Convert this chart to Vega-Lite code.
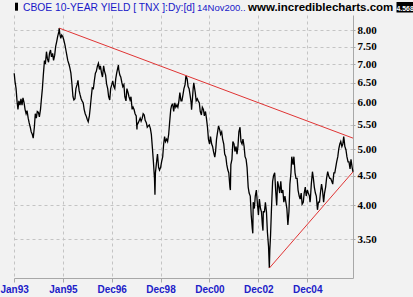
{
  "$schema": "https://vega.github.io/schema/vega-lite/v6.json",
  "width": 339,
  "height": 263,
  "autosize": {"type": "none"},
  "padding": {"left": 14, "top": 15, "right": 60, "bottom": 19},
  "background": "#f2f2f2",
  "config": {
    "view": {"stroke": null},
    "axis": {
      "domainColor": "#a8a8a8",
      "tickColor": "#a8a8a8",
      "gridColor": "#c4c4c4",
      "gridDash": [3, 3],
      "gridWidth": 1,
      "title": null
    }
  },
  "datasets": {
    "tnx": [
      {"d":"1993-01-04","v":6.75},{"d":"1993-01-15","v":6.55},{"d":"1993-02-01","v":6.35},{"d":"1993-02-15","v":6.05},{"d":"1993-03-01","v":5.85},{"d":"1993-03-15","v":6.05},{"d":"1993-04-01","v":5.95},{"d":"1993-04-15","v":6.1},{"d":"1993-05-01","v":5.95},{"d":"1993-05-15","v":6.12},{"d":"1993-06-01","v":6.0},{"d":"1993-06-15","v":5.85},{"d":"1993-07-01","v":5.75},{"d":"1993-07-15","v":5.82},{"d":"1993-08-01","v":5.65},{"d":"1993-08-15","v":5.55},{"d":"1993-09-01","v":5.45},{"d":"1993-09-15","v":5.35},{"d":"1993-10-01","v":5.3},{"d":"1993-10-15","v":5.22},{"d":"1993-11-01","v":5.45},{"d":"1993-11-15","v":5.75},{"d":"1993-12-01","v":5.65},{"d":"1993-12-15","v":5.8},
      {"d":"1994-01-01","v":5.78},{"d":"1994-01-15","v":5.68},{"d":"1994-02-01","v":5.85},{"d":"1994-02-15","v":6.1},{"d":"1994-03-01","v":6.35},{"d":"1994-03-15","v":6.7},{"d":"1994-04-01","v":7.1},{"d":"1994-04-15","v":7.0},{"d":"1994-05-01","v":7.35},{"d":"1994-05-15","v":7.15},{"d":"1994-06-01","v":7.05},{"d":"1994-06-15","v":7.3},{"d":"1994-07-01","v":7.4},{"d":"1994-07-15","v":7.2},{"d":"1994-08-01","v":7.3},{"d":"1994-08-15","v":7.1},{"d":"1994-09-01","v":7.25},{"d":"1994-09-15","v":7.5},{"d":"1994-10-01","v":7.65},{"d":"1994-10-15","v":7.8},{"d":"1994-11-01","v":7.95},{"d":"1994-11-08","v":8.07},{"d":"1994-11-15","v":7.9},{"d":"1994-12-01","v":7.75},{"d":"1994-12-15","v":7.85},
      {"d":"1995-01-01","v":7.8},{"d":"1995-01-15","v":7.7},{"d":"1995-02-01","v":7.55},{"d":"1995-02-15","v":7.4},{"d":"1995-03-01","v":7.25},{"d":"1995-03-15","v":7.1},{"d":"1995-04-01","v":7.0},{"d":"1995-04-15","v":6.9},{"d":"1995-05-01","v":6.75},{"d":"1995-05-15","v":6.5},{"d":"1995-06-01","v":6.15},{"d":"1995-06-15","v":6.07},{"d":"1995-07-01","v":6.1},{"d":"1995-07-15","v":6.35},{"d":"1995-08-01","v":6.45},{"d":"1995-08-15","v":6.56},{"d":"1995-09-01","v":6.3},{"d":"1995-09-15","v":6.2},{"d":"1995-10-01","v":6.1},{"d":"1995-10-15","v":6.05},{"d":"1995-11-01","v":6.0},{"d":"1995-11-15","v":5.85},{"d":"1995-12-01","v":5.75},{"d":"1995-12-15","v":5.7},
      {"d":"1996-01-01","v":5.62},{"d":"1996-01-15","v":5.57},{"d":"1996-02-01","v":5.7},{"d":"1996-02-15","v":5.9},{"d":"1996-03-01","v":6.15},{"d":"1996-03-15","v":6.37},{"d":"1996-04-01","v":6.35},{"d":"1996-04-15","v":6.55},{"d":"1996-05-01","v":6.75},{"d":"1996-05-15","v":6.8},{"d":"1996-06-01","v":6.95},{"d":"1996-06-15","v":7.02},{"d":"1996-07-01","v":6.85},{"d":"1996-07-15","v":6.95},{"d":"1996-08-01","v":6.75},{"d":"1996-08-15","v":6.65},{"d":"1996-09-01","v":6.95},{"d":"1996-09-15","v":6.8},{"d":"1996-10-01","v":6.7},{"d":"1996-10-15","v":6.47},{"d":"1996-11-01","v":6.35},{"d":"1996-11-15","v":6.15},{"d":"1996-12-01","v":6.07},{"d":"1996-12-15","v":6.35},
      {"d":"1997-01-01","v":6.45},{"d":"1997-01-15","v":6.55},{"d":"1997-02-01","v":6.4},{"d":"1997-02-15","v":6.35},{"d":"1997-03-01","v":6.6},{"d":"1997-03-15","v":6.75},{"d":"1997-04-01","v":6.9},{"d":"1997-04-10","v":6.97},{"d":"1997-04-15","v":6.85},{"d":"1997-05-01","v":6.7},{"d":"1997-05-15","v":6.65},{"d":"1997-06-01","v":6.5},{"d":"1997-06-15","v":6.4},{"d":"1997-07-01","v":6.45},{"d":"1997-07-15","v":6.15},{"d":"1997-08-01","v":6.05},{"d":"1997-08-15","v":6.35},{"d":"1997-09-01","v":6.25},{"d":"1997-09-15","v":6.15},{"d":"1997-10-01","v":6.07},{"d":"1997-10-15","v":6.15},{"d":"1997-11-01","v":5.85},{"d":"1997-11-15","v":5.9},{"d":"1997-12-01","v":5.84},{"d":"1997-12-15","v":5.75},
      {"d":"1998-01-01","v":5.7},{"d":"1998-01-12","v":5.4},{"d":"1998-01-15","v":5.5},{"d":"1998-02-01","v":5.55},{"d":"1998-02-15","v":5.6},{"d":"1998-03-01","v":5.65},{"d":"1998-03-15","v":5.58},{"d":"1998-04-01","v":5.65},{"d":"1998-04-15","v":5.75},{"d":"1998-05-01","v":5.72},{"d":"1998-05-15","v":5.6},{"d":"1998-06-01","v":5.55},{"d":"1998-06-15","v":5.45},{"d":"1998-07-01","v":5.48},{"d":"1998-07-15","v":5.5},{"d":"1998-08-01","v":5.42},{"d":"1998-08-15","v":5.3},{"d":"1998-09-01","v":5.0},{"d":"1998-09-15","v":4.75},{"d":"1998-10-01","v":4.45},{"d":"1998-10-08","v":4.17},{"d":"1998-10-15","v":4.55},{"d":"1998-11-01","v":4.75},{"d":"1998-11-15","v":4.9},{"d":"1998-12-01","v":4.65},{"d":"1998-12-15","v":4.6},
      {"d":"1999-01-01","v":4.65},{"d":"1999-01-15","v":4.75},{"d":"1999-02-01","v":4.85},{"d":"1999-02-15","v":5.1},{"d":"1999-03-01","v":5.25},{"d":"1999-03-15","v":5.15},{"d":"1999-04-01","v":5.2},{"d":"1999-04-15","v":5.15},{"d":"1999-05-01","v":5.3},{"d":"1999-05-15","v":5.55},{"d":"1999-06-01","v":5.85},{"d":"1999-06-15","v":5.95},{"d":"1999-07-01","v":5.97},{"d":"1999-07-15","v":5.8},{"d":"1999-08-01","v":6.0},{"d":"1999-08-15","v":5.9},{"d":"1999-09-01","v":5.95},{"d":"1999-09-15","v":5.9},{"d":"1999-10-01","v":6.05},{"d":"1999-10-15","v":6.25},{"d":"1999-11-01","v":6.05},{"d":"1999-11-15","v":6.05},{"d":"1999-12-01","v":6.2},{"d":"1999-12-15","v":6.35},
      {"d":"2000-01-01","v":6.45},{"d":"2000-01-14","v":6.68},{"d":"2000-02-01","v":6.6},{"d":"2000-02-15","v":6.4},{"d":"2000-03-01","v":6.35},{"d":"2000-03-15","v":6.2},{"d":"2000-04-01","v":6.0},{"d":"2000-04-07","v":5.84},{"d":"2000-04-15","v":6.0},{"d":"2000-05-01","v":6.35},{"d":"2000-05-10","v":6.5},{"d":"2000-06-01","v":6.25},{"d":"2000-06-15","v":6.05},{"d":"2000-07-01","v":6.1},{"d":"2000-07-15","v":6.05},{"d":"2000-08-01","v":6.0},{"d":"2000-08-15","v":5.8},{"d":"2000-09-01","v":5.72},{"d":"2000-09-15","v":5.9},{"d":"2000-10-01","v":5.85},{"d":"2000-10-15","v":5.7},{"d":"2000-11-01","v":5.8},{"d":"2000-11-15","v":5.65},{"d":"2000-12-01","v":5.45},{"d":"2000-12-15","v":5.2},
      {"d":"2001-01-01","v":5.1},{"d":"2001-01-15","v":5.25},{"d":"2001-02-01","v":5.1},{"d":"2001-02-15","v":5.05},{"d":"2001-03-01","v":4.95},{"d":"2001-03-20","v":4.84},{"d":"2001-04-01","v":4.95},{"d":"2001-04-15","v":5.2},{"d":"2001-05-01","v":5.35},{"d":"2001-05-15","v":5.48},{"d":"2001-06-01","v":5.4},{"d":"2001-06-15","v":5.3},{"d":"2001-07-01","v":5.35},{"d":"2001-07-15","v":5.2},{"d":"2001-08-01","v":5.1},{"d":"2001-08-15","v":4.9},{"d":"2001-09-01","v":4.85},{"d":"2001-09-15","v":4.7},{"d":"2001-10-01","v":4.6},{"d":"2001-10-15","v":4.55},{"d":"2001-11-01","v":4.3},{"d":"2001-11-08","v":4.25},{"d":"2001-11-15","v":4.7},{"d":"2001-12-01","v":4.8},{"d":"2001-12-15","v":5.15},
      {"d":"2002-01-01","v":5.1},{"d":"2002-01-15","v":4.95},{"d":"2002-02-01","v":5.05},{"d":"2002-02-15","v":4.9},{"d":"2002-03-01","v":5.05},{"d":"2002-03-15","v":5.35},{"d":"2002-04-01","v":5.45},{"d":"2002-04-15","v":5.15},{"d":"2002-05-01","v":5.1},{"d":"2002-05-15","v":5.2},{"d":"2002-06-01","v":5.05},{"d":"2002-06-15","v":4.85},{"d":"2002-07-01","v":4.8},{"d":"2002-07-15","v":4.65},{"d":"2002-08-01","v":4.3},{"d":"2002-08-15","v":4.2},{"d":"2002-09-01","v":4.15},{"d":"2002-09-15","v":3.85},{"d":"2002-10-01","v":3.65},{"d":"2002-10-09","v":3.58},{"d":"2002-10-15","v":4.05},{"d":"2002-11-01","v":3.95},{"d":"2002-11-15","v":4.15},{"d":"2002-12-01","v":4.25},{"d":"2002-12-15","v":4.05},
      {"d":"2003-01-01","v":3.85},{"d":"2003-01-15","v":4.1},{"d":"2003-02-01","v":3.95},{"d":"2003-02-15","v":3.9},{"d":"2003-03-01","v":3.7},{"d":"2003-03-10","v":3.62},{"d":"2003-03-15","v":3.9},{"d":"2003-04-01","v":3.9},{"d":"2003-04-15","v":4.05},{"d":"2003-05-01","v":3.9},{"d":"2003-05-15","v":3.6},{"d":"2003-06-01","v":3.4},{"d":"2003-06-13","v":3.12},{"d":"2003-06-20","v":3.35},{"d":"2003-07-01","v":3.55},{"d":"2003-07-15","v":3.95},{"d":"2003-08-01","v":4.4},{"d":"2003-08-15","v":4.5},{"d":"2003-09-01","v":4.55},{"d":"2003-09-15","v":4.25},{"d":"2003-10-01","v":4.0},{"d":"2003-10-15","v":4.4},{"d":"2003-11-01","v":4.3},{"d":"2003-11-15","v":4.2},{"d":"2003-12-01","v":4.4},{"d":"2003-12-15","v":4.2},
      {"d":"2004-01-01","v":4.25},{"d":"2004-01-15","v":4.05},{"d":"2004-02-01","v":4.15},{"d":"2004-02-15","v":4.05},{"d":"2004-03-01","v":3.95},{"d":"2004-03-16","v":3.7},{"d":"2004-04-01","v":3.9},{"d":"2004-04-15","v":4.35},{"d":"2004-05-01","v":4.55},{"d":"2004-05-13","v":4.85},{"d":"2004-06-01","v":4.7},{"d":"2004-06-14","v":4.85},{"d":"2004-07-01","v":4.55},{"d":"2004-07-15","v":4.45},{"d":"2004-08-01","v":4.45},{"d":"2004-08-15","v":4.25},{"d":"2004-09-01","v":4.15},{"d":"2004-09-15","v":4.1},{"d":"2004-10-01","v":4.2},{"d":"2004-10-15","v":4.02},{"d":"2004-11-01","v":4.05},{"d":"2004-11-15","v":4.2},{"d":"2004-12-01","v":4.3},{"d":"2004-12-15","v":4.15},
      {"d":"2005-01-01","v":4.25},{"d":"2005-01-15","v":4.2},{"d":"2005-02-01","v":4.15},{"d":"2005-02-10","v":4.05},{"d":"2005-02-15","v":4.1},{"d":"2005-03-01","v":4.35},{"d":"2005-03-18","v":4.57},{"d":"2005-04-01","v":4.45},{"d":"2005-04-15","v":4.3},{"d":"2005-05-01","v":4.2},{"d":"2005-05-15","v":4.15},{"d":"2005-06-01","v":3.93},{"d":"2005-06-15","v":4.05},{"d":"2005-07-01","v":4.05},{"d":"2005-07-15","v":4.2},{"d":"2005-08-01","v":4.35},{"d":"2005-08-15","v":4.25},{"d":"2005-09-01","v":4.05},{"d":"2005-09-15","v":4.2},{"d":"2005-10-01","v":4.3},{"d":"2005-10-15","v":4.45},{"d":"2005-11-01","v":4.57},{"d":"2005-11-15","v":4.5},{"d":"2005-12-01","v":4.45},{"d":"2005-12-15","v":4.45},
      {"d":"2006-01-01","v":4.4},{"d":"2006-01-15","v":4.35},{"d":"2006-02-01","v":4.55},{"d":"2006-02-15","v":4.55},{"d":"2006-03-01","v":4.65},{"d":"2006-03-15","v":4.75},{"d":"2006-04-01","v":4.85},{"d":"2006-04-15","v":5.0},{"d":"2006-05-01","v":5.1},{"d":"2006-05-15","v":5.15},{"d":"2006-06-01","v":5.05},{"d":"2006-06-15","v":5.1},{"d":"2006-06-28","v":5.25},{"d":"2006-07-05","v":5.18},{"d":"2006-07-15","v":5.05},{"d":"2006-08-01","v":4.98},{"d":"2006-08-15","v":4.85},{"d":"2006-09-01","v":4.75},{"d":"2006-09-15","v":4.75},{"d":"2006-10-01","v":4.62},{"d":"2006-10-15","v":4.8},{"d":"2006-11-01","v":4.65},{"d":"2006-11-14","v":4.568}
    ],
    "trend": [
      {"a":"1994-11-08","av":8.07,"b":"2006-11-14","bv":5.22},
      {"a":"2003-06-13","av":3.12,"b":"2006-11-14","bv":4.568}
    ],
    "header": [
      {"name":"CBOE 10-YEAR YIELD [ TNX ]:Dy:[d]","date":"14Nov200..","site":"www.incrediblecharts.com","last":"4.568"}
    ]
  },
  "layer": [
    {
      "data": {"name": "tnx"},
      "mark": {"type": "line", "color": "#000000", "strokeWidth": 1.3},
      "encoding": {
        "x": {
          "field": "d",
          "type": "temporal",
          "scale": {"nice": false, "domain": [{"year":1993,"month":1,"date":1,"utc":true},{"year":2006,"month":11,"date":14,"utc":true}]},
          "axis": {
            "values": [
              {"year":1993,"month":1,"date":3,"utc":true},
              {"year":1995,"month":1,"date":2,"utc":true},
              {"year":1996,"month":12,"date":30,"utc":true},
              {"year":1998,"month":12,"date":30,"utc":true},
              {"year":2000,"month":12,"date":30,"utc":true},
              {"year":2002,"month":12,"date":30,"utc":true},
              {"year":2004,"month":12,"date":30,"utc":true}
            ],
            "format": "%b%y",
            "labelFont": "Liberation Sans",
            "labelFontSize": 10,
            "labelFontWeight": "bold",
            "labelColor": "#2020c8",
            "labelFlush": false,
            "labelPadding": 2,
            "tickSize": 4,
            "grid": true
          }
        },
        "y": {
          "field": "v",
          "type": "quantitative",
          "scale": {"type": "log", "nice": false, "domain": [3, 8.5]},
          "axis": {
            "orient": "right",
            "values": [3.5, 4, 4.5, 5, 5.5, 6, 6.5, 7, 7.5, 8],
            "format": ".2f",
            "labelFont": "Liberation Serif",
            "labelFontSize": 11,
            "labelFontWeight": "bold",
            "labelColor": "#000000",
            "labelPadding": 2,
            "tickSize": 2,
            "grid": true
          }
        }
      }
    },
    {
      "data": {"name": "trend"},
      "mark": {"type": "rule", "color": "#e03434", "strokeWidth": 1},
      "encoding": {
        "x": {"field": "a", "type": "temporal"},
        "x2": {"field": "b"},
        "y": {"field": "av", "type": "quantitative"},
        "y2": {"field": "bv"}
      }
    },
    {
      "data": {"name": "header"},
      "mark": {"type": "rect", "color": "#000000", "xOffset": 1, "x2Offset": 4, "yOffset": -12.3, "y2Offset": -4.3},
      "encoding": {
        "x": {"datum": {"year":1993,"month":1,"date":1,"utc":true}, "type": "temporal"},
        "x2": {"datum": {"year":1993,"month":1,"date":1,"utc":true}},
        "y": {"datum": 8.5, "type": "quantitative"},
        "y2": {"datum": 8.5}
      }
    },
    {
      "data": {"name": "header"},
      "mark": {"type": "text", "align": "left", "baseline": "alphabetic", "dx": 9, "dy": -4, "font": "Liberation Sans", "fontSize": 10.3, "color": "#1818c8"},
      "encoding": {
        "x": {"datum": {"year":1993,"month":1,"date":1,"utc":true}, "type": "temporal"},
        "y": {"datum": 8.5, "type": "quantitative"},
        "text": {"field": "name"}
      }
    },
    {
      "data": {"name": "header"},
      "mark": {"type": "text", "align": "left", "baseline": "alphabetic", "dx": 183, "dy": -4, "font": "Liberation Sans", "fontSize": 9.5, "color": "#1818c8"},
      "encoding": {
        "x": {"datum": {"year":1993,"month":1,"date":1,"utc":true}, "type": "temporal"},
        "y": {"datum": 8.5, "type": "quantitative"},
        "text": {"field": "date"}
      }
    },
    {
      "data": {"name": "header"},
      "mark": {"type": "text", "align": "left", "baseline": "alphabetic", "dx": -105, "dy": -4, "font": "Liberation Sans", "fontSize": 11.5, "fontWeight": "bold", "color": "#000000"},
      "encoding": {
        "x": {"datum": {"year":2006,"month":11,"date":14,"utc":true}, "type": "temporal"},
        "y": {"datum": 8.5, "type": "quantitative"},
        "text": {"field": "site"}
      }
    },
    {
      "data": {"name": "header"},
      "mark": {"type": "rect", "color": "#000000", "xOffset": 43.5, "x2Offset": 61, "yOffset": -13, "y2Offset": -2.5},
      "encoding": {
        "x": {"datum": {"year":2006,"month":11,"date":14,"utc":true}, "type": "temporal"},
        "x2": {"datum": {"year":2006,"month":11,"date":14,"utc":true}},
        "y": {"datum": 8.5, "type": "quantitative"},
        "y2": {"datum": 8.5}
      }
    },
    {
      "data": {"name": "header"},
      "mark": {"type": "text", "align": "left", "baseline": "alphabetic", "dx": 43.5, "dy": -4.5, "font": "Liberation Sans", "fontSize": 6.9, "fontWeight": "bold", "color": "#ffffff"},
      "encoding": {
        "x": {"datum": {"year":2006,"month":11,"date":14,"utc":true}, "type": "temporal"},
        "y": {"datum": 8.5, "type": "quantitative"},
        "text": {"field": "last"}
      }
    }
  ]
}
